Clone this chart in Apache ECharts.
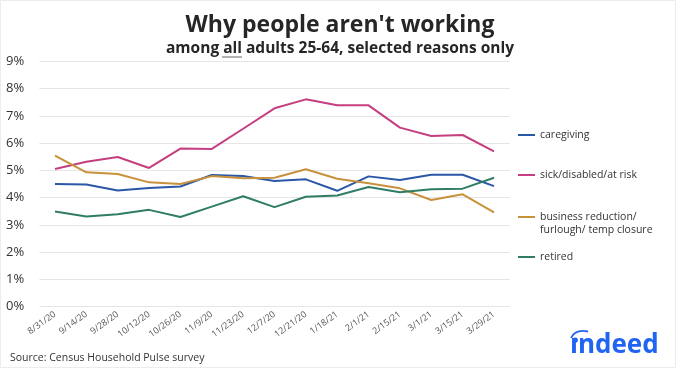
<!DOCTYPE html>
<html>
<head>
<meta charset="utf-8">
<script src="https://cdn.jsdelivr.net/npm/echarts@6/dist/echarts.min.js"></script>
<style>html,body{margin:0;padding:0;background:#fff;}#c{width:680px;height:372px;}</style>
</head>
<body>
<div id="c"></div>
<script>
var categories = ['8/31/20','9/14/20','9/28/20','10/12/20','10/26/20','11/9/20','11/23/20','12/7/20','12/21/20','1/18/21','2/1/21','2/15/21','3/1/21','3/15/21','3/29/21'];
var caregiving = [4.50, 4.48, 4.26, 4.35, 4.41, 4.83, 4.79, 4.61, 4.67, 4.25, 4.78, 4.65, 4.84, 4.84, 4.42];
var sick = [5.05, 5.32, 5.49, 5.09, 5.80, 5.79, 6.53, 7.28, 7.61, 7.39, 7.39, 6.57, 6.26, 6.30, 5.70];
var business = [5.54, 4.93, 4.87, 4.56, 4.50, 4.79, 4.71, 4.73, 5.04, 4.69, 4.53, 4.34, 3.91, 4.12, 3.46];
var retired = [3.49, 3.31, 3.39, 3.55, 3.29, 3.67, 4.05, 3.65, 4.03, 4.08, 4.39, 4.20, 4.31, 4.33, 4.73];
var yTicks = [0, 1, 2, 3, 4, 5, 6, 7, 8, 9];

var FONT = '"Open Sans", "Noto Sans", sans-serif';
var names = ['caregiving', 'sick/disabled/at risk', 'business reduction/', 'retired'];
var colors = ['#2b57a7', '#c53f80', '#c8913b', '#2f7d66'];
var datas = [caregiving, sick, business, retired];
var legendCenters = [135, 175, 217, 257];

var chart = echarts.init(document.getElementById('c'), null, {renderer: 'canvas'});

var series = names.map(function (n, i) {
  return {
    name: n, type: 'line', data: datas[i], symbol: 'none',
    lineStyle: {width: 2, color: colors[i]}, itemStyle: {color: colors[i]},
    emphasis: {disabled: true}, animation: false
  };
});

var legends = names.map(function (n, i) {
  return {
    data: [n], left: 518, top: legendCenters[i] - 7, padding: 0,
    icon: 'rect', itemWidth: 17, itemHeight: 2,
    textStyle: {fontFamily: FONT, fontSize: 10.5, color: '#333', lineHeight: 14},
    selectedMode: false
  };
});

chart.setOption({
  backgroundColor: '#fff',
  animation: false,
  grid: {left: 39.3, right: 170.3, top: 61.5, bottom: 65.5},
  legend: legends,
  xAxis: {
    type: 'category', data: categories, boundaryGap: true,
    axisLine: {show: false}, axisTick: {show: false},
    axisLabel: {interval: 0, rotate: 36, fontSize: 9, color: '#555', fontFamily: FONT, margin: 7}
  },
  yAxis: {
    type: 'value', min: yTicks[0], max: yTicks[yTicks.length - 1], interval: 1,
    axisLine: {show: false}, axisTick: {show: false},
    splitLine: {lineStyle: {color: '#e6e6e6', width: 1}},
    axisLabel: {formatter: '{value}%', fontSize: 13, color: '#333', fontFamily: FONT, margin: 15}
  },
  series: series,
  graphic: [
    {type: 'rect', shape: {x: 0.5, y: 0.5, width: 675, height: 367}, style: {fill: 'none', stroke: '#ececec', lineWidth: 1}, silent: true, z: -1},
    {type: 'text', x: 340, y: 25, style: {text: "Why people aren't working", textAlign: 'center', textVerticalAlign: 'middle', font: 'bold 23px ' + FONT, fill: '#262626'}},
    {type: 'text', x: 340, y: 49, style: {text: 'among all adults 25-64, selected reasons only', textAlign: 'center', textVerticalAlign: 'middle', font: 'bold 15.5px ' + FONT, fill: '#262626'}},
    {type: 'line', shape: {x1: 222, y1: 57, x2: 242, y2: 57}, style: {stroke: '#999', lineWidth: 1.5}},
    {type: 'text', x: 540, y: 230.5, style: {text: 'furlough/ temp closure', textVerticalAlign: 'middle', font: '10.5px ' + FONT, fill: '#333'}},
    {type: 'text', x: 10, y: 358, style: {text: 'Source: Census Household Pulse survey', textVerticalAlign: 'middle', font: '10.5px ' + FONT, fill: '#333'}},
    {type: 'text', x: 570, y: 346, style: {text: 'ındeed', textVerticalAlign: 'middle', font: 'bold 26px ' + FONT, fill: '#2164f3'}},
    {type: 'circle', shape: {cx: 575.3, cy: 340, r: 2.6}, style: {fill: '#2164f3'}},
    {type: 'bezierCurve', shape: {x1: 571, y1: 338, cpx1: 575, cpy1: 329, x2: 588, y2: 331.5}, style: {fill: 'none', stroke: '#2164f3', lineWidth: 1.8}}
  ]
});
</script>
</body>
</html>
